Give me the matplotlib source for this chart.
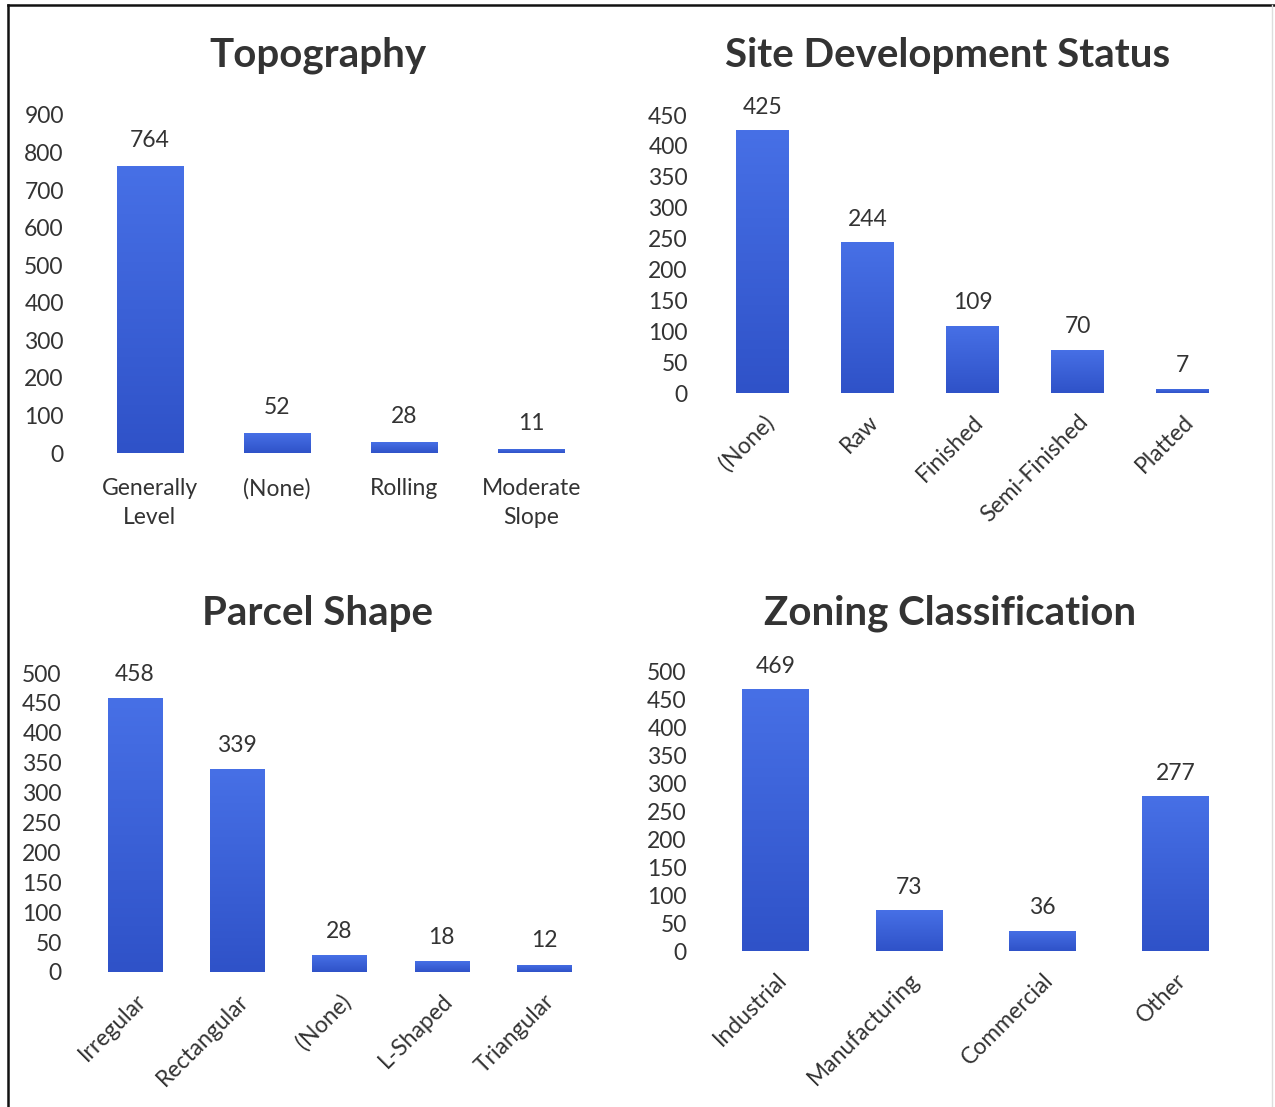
#!/usr/bin/env python3

import numpy as np
import matplotlib.pyplot as plt
from matplotlib.colors import LinearSegmentedColormap
from matplotlib.lines import Line2D

plt.rcParams['font.family'] = ['Lato', 'DejaVu Sans']

topo_labels  = ['Generally\nLevel', '(None)', 'Rolling', 'Moderate\nSlope']
topo_values  = [764, 52, 28, 11]
topo_ticks   = np.arange(0, 901, 100)

site_labels  = ['(None)', 'Raw', 'Finished', 'Semi-Finished', 'Platted']
site_values  = [425, 244, 109, 70, 7]
site_ticks   = np.arange(0, 451, 50)

shape_labels = ['Irregular', 'Rectangular', '(None)', 'L-Shaped', 'Triangular']
shape_values = [458, 339, 28, 18, 12]
shape_ticks  = np.arange(0, 501, 50)

zone_labels  = ['Industrial', 'Manufacturing', 'Commercial', 'Other']
zone_values  = [469, 73, 36, 277]
zone_ticks   = np.arange(0, 501, 50)

W, H = 1275, 1107
TEXT = '#333333'
FS = 16.5
bar_cmap = LinearSegmentedColormap.from_list('bar', ['#4770e6', '#2f52c8'])


def px_axes(fig, left, right, top, bottom):
    return fig.add_axes([left / W, 1 - bottom / H, (right - left) / W, (bottom - top) / H])


def gradient_bars(ax, values, width):
    x = np.arange(len(values))
    bars = ax.bar(x, values, width=width, color='#3a60d8', edgecolor='none')
    grad = np.linspace(0, 1, 256).reshape(-1, 1)
    for b in bars:
        x0, y0 = b.get_x(), b.get_y()
        h = max(b.get_height(), 1e-9)
        img = ax.imshow(grad, cmap=bar_cmap, aspect='auto', origin='upper',
                        extent=(x0, x0 + b.get_width(), y0, y0 + h),
                        zorder=2)
        img.set_clip_path(b)
    return bars


def bar_chart(fig, box, labels, values, ticks, title, title_xy,
              width=0.52, rotate=False):
    ax = px_axes(fig, *box)
    gradient_bars(ax, values, width)
    ax.set_xlim(-0.5, len(values) - 0.5)
    ax.set_ylim(ticks[0], ticks[-1])
    ax.set_yticks(ticks)
    ax.set_yticklabels([str(t) for t in ticks], fontsize=FS, color=TEXT)
    ax.tick_params(axis='y', length=0, pad=16)
    ax.set_xticks(np.arange(len(values)))
    if rotate:
        ax.set_xticklabels(labels, rotation=45, ha='right', va='top',
                           rotation_mode='anchor', fontsize=FS, color=TEXT)
        ax.tick_params(axis='x', length=0, pad=13)
    else:
        ax.set_xticklabels(labels, fontsize=FS, color=TEXT, linespacing=1.5)
        ax.tick_params(axis='x', length=0, pad=18)
    for s in ax.spines.values():
        s.set_visible(False)
    ax.patch.set_alpha(0)

    span = ticks[-1] - ticks[0]
    for i, v in enumerate(values):
        ax.text(i, v + span * 0.045, str(v), ha='center', va='bottom',
                fontsize=FS, color=TEXT)

    fig.text(title_xy[0] / W, 1 - title_xy[1] / H, title, ha='center',
             va='center', fontsize=29, fontweight='bold', color=TEXT)
    return ax


fig = plt.figure(figsize=(W / 100, H / 100), dpi=100)

bar_chart(fig, (86, 595, 115, 453), topo_labels, topo_values, topo_ticks,
          'Topography', (318, 55), width=0.52)
bar_chart(fig, (710, 1235, 115, 393), site_labels, site_values, site_ticks,
          'Site Development Status', (948, 55), width=0.5, rotate=True)
bar_chart(fig, (84, 595, 673, 972), shape_labels, shape_values, shape_ticks,
          'Parcel Shape', (318, 613), width=0.53, rotate=True)
bar_chart(fig, (709, 1242, 672, 951), zone_labels, zone_values, zone_ticks,
          'Zoning Classification', (950, 613), width=0.5, rotate=True)

# Frame lines around the figure
fig.add_artist(Line2D([8 / W, 8 / W], [0, 1 - 5 / H], color='#111111', lw=1.8))
fig.add_artist(Line2D([8 / W, 1], [1 - 5 / H, 1 - 5 / H], color='#111111', lw=1.8))
fig.add_artist(Line2D([1 - 3 / W, 1 - 3 / W], [0, 1 - 5 / H], color='#dddddd', lw=1))

fig.savefig('out.png', dpi=100)
